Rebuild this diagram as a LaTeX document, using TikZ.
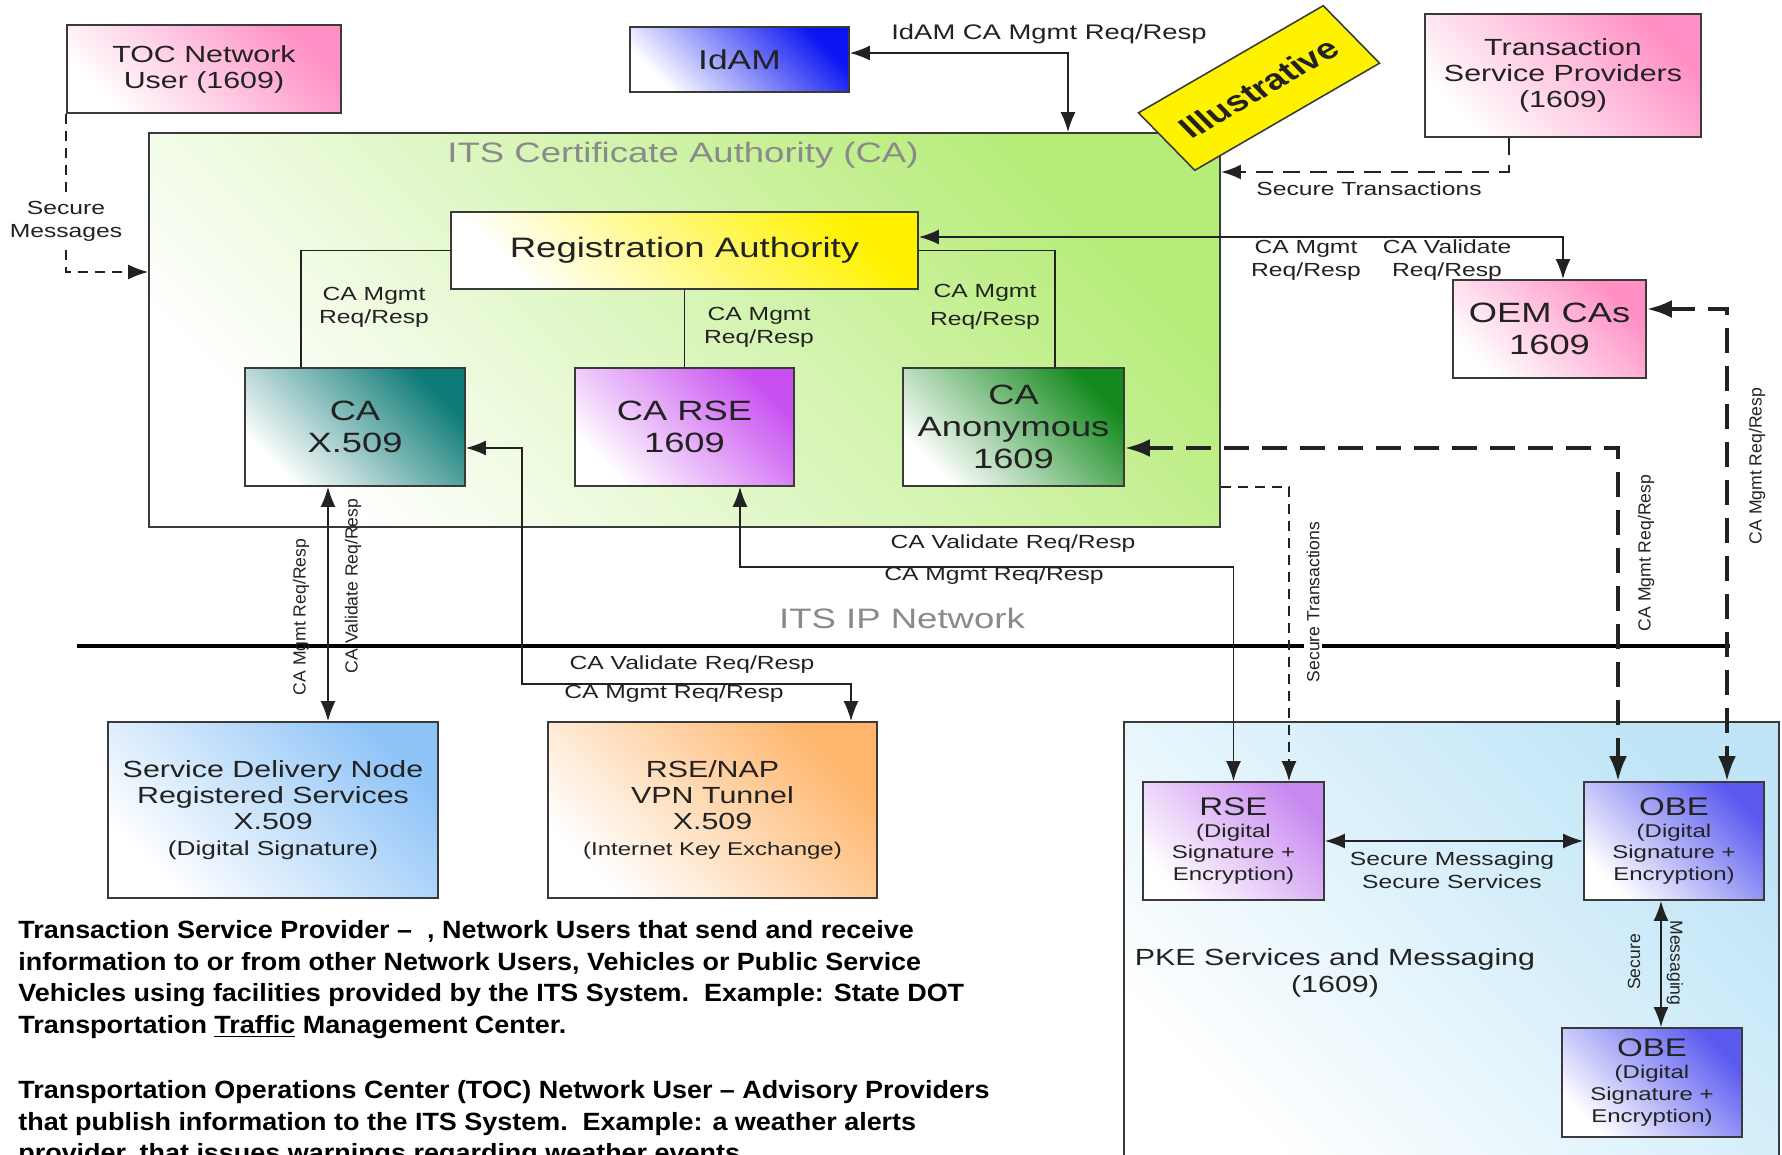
\documentclass[tikz,border=0pt]{standalone}
\usepackage{fontspec}
\setmainfont{Liberation Sans}[FakeStretch=1.3]
\newfontfamily\plainfont{Liberation Sans}
\newfontfamily\notefont{Liberation Sans}[FakeStretch=1.08]
\usetikzlibrary{arrows.meta,positioning}
\definecolor{ink}{HTML}{222222}
\definecolor{edge}{HTML}{3A3A3A}
\definecolor{pinkc}{HTML}{FF8FC4}
\definecolor{idamblue}{HTML}{0A14F0}
\definecolor{rayellow}{HTML}{FFF200}
\definecolor{cagreen}{HTML}{B6EC78}
\definecolor{teal509}{HTML}{0C7A76}
\definecolor{violetrse}{HTML}{C850F0}
\definecolor{anongreen}{HTML}{148A1E}
\definecolor{sdnblue}{HTML}{8FC4F7}
\definecolor{naporange}{HTML}{FFB56B}
\definecolor{pkeblue}{HTML}{BFE5F7}
\definecolor{rseviolet}{HTML}{C98AF0}
\definecolor{obeblue}{HTML}{5A5AF0}
\definecolor{labelgray}{HTML}{8A8A8A}
\tikzset{
  >={Latex[length=4mm,width=3mm]},
  every node/.style={text=ink},
  box/.style={draw=edge, line width=1.1pt, align=center, inner sep=0pt,
    bottom color=white, top color=#1, shading angle=-45},
  wh/.style 2 args={minimum width=#1*0.02cm, minimum height=#2*0.02cm},
  boxtxt/.style={font=\fontsize{13.3}{14.8}\selectfont},
  catxt/.style={font=\fontsize{15.9}{18}\selectfont},
  pketxt/.style={font=\fontsize{13.3}{15.5}\selectfont},
  lbl/.style={font=\fontsize{10.8}{13}\selectfont, align=center, inner sep=1pt},
  vlbl/.style={font=\plainfont\fontsize{10}{12}\selectfont, rotate=#1, inner sep=1.5pt},
  vlbl/.default=90,
  area/.style={font=\fontsize{16}{19}\selectfont, text=labelgray},
  conn/.style={line width=0.8pt, draw=ink},
  thickdash/.style={line width=2pt, draw=ink, dash pattern=on 0.5cm off 0.26cm,
    >={Latex[length=5mm,width=3.6mm]}},
  tspdash/.style={line width=1.25pt, draw=ink, dash pattern=on 0.34cm off 0.2cm},
  thindash/.style={line width=0.75pt, draw=ink, dash pattern=on 0.2cm off 0.14cm},
  note/.style={font=\notefont\bfseries\fontsize{14.2}{18}\selectfont, align=left,
    anchor=north west, inner sep=0pt, text=black}
}
\begin{document}
\begin{tikzpicture}[x=0.02cm, y=-0.02cm]
  \useasboundingbox (0,0) rectangle (1782,1155);
  \clip (0,0) rectangle (1782,1155);
  \fill[white] (0,0) rectangle (1782,1155);

  % Areas
  \node[box=cagreen, wh={1071}{394}] (ca) at (684.5,330) {};
  \node[box=pkeblue, wh={655}{443}] (pke) at (1451.5,943.5) {};
  \node[area] at (683,155) {ITS Certificate Authority (CA)};
  \node[area] at (902,618) {ITS IP Network};
  \draw[line width=2.8pt] (77,646) -- (1730,646);

  % Outside parties
  \node[box=pinkc, wh={274}{88}, boxtxt] (toc) at (204,69) {TOC Network\\User (1609)};
  \node[box=idamblue, wh={219}{65}, font=\fontsize{15.5}{18}\selectfont] (idam) at (739.5,59.5) {IdAM};
  \node[box=pinkc, wh={276}{123}, boxtxt] (tsp) at (1563,75.5) {Transaction\\Service Providers\\(1609)};
  \node[box=pinkc, wh={193}{98}, catxt] (oem) at (1549.5,329) {OEM CAs\\1609};

  % CA internals
  \node[box=rayellow, wh={467}{77}, font=\fontsize{16}{19}\selectfont] (ra) at (684.5,250.5) {Registration Authority};
  \node[box=teal509, wh={220}{118}, catxt] (cax) at (355,427) {CA\\X.509};
  \node[box=violetrse, wh={219}{118}, catxt] (carse) at (684.5,427) {CA RSE\\1609};
  \node[box=anongreen, wh={221}{118}, catxt] (caanon) at (1013.5,427) {CA\\Anonymous\\1609};

  % Network side
  \node[box=sdnblue, wh={330}{176}, boxtxt] (sdn) at (273,810)
    {Service Delivery Node\\Registered Services\\X.509\\{\fontsize{11.5}{14}\selectfont (Digital Signature)}};
  \node[box=naporange, wh={329}{176}, boxtxt] (rsenap) at (712.5,810)
    {RSE/NAP\\VPN Tunnel\\X.509\\{\fontsize{10.5}{14}\selectfont (Internet Key Exchange)}};

  % PKE area
  \node[box=rseviolet, wh={181}{118}, font=\fontsize{10.5}{12.5}\selectfont] (rse) at (1233.5,841)
    {{\fontsize{14.5}{16}\selectfont RSE}\\(Digital\\Signature +\\Encryption)};
  \node[box=obeblue, wh={180}{118}, font=\fontsize{10.5}{12.5}\selectfont] (obe1) at (1674,841)
    {{\fontsize{14.5}{16}\selectfont OBE}\\(Digital\\Signature +\\Encryption)};
  \node[box=obeblue, wh={180}{109}, font=\fontsize{10.5}{12.5}\selectfont] (obe2) at (1652,1082.5)
    {{\fontsize{14.5}{16}\selectfont OBE}\\(Digital\\Signature +\\Encryption)};
  \node[pketxt, align=center] (pkelbl) at (1335,973) {PKE Services and Messaging\\(1609)};

  % Illustrative tag
  \begin{scope}[shift={(1259,88)}, xscale=1.3]
    \node[draw=edge, line width=0.9pt, fill=yellow, rotate=37, transform shape,
      minimum width=3.56cm, minimum height=1.44cm,
      font=\plainfont\bfseries\fontsize{16.5}{19}\selectfont] (illus) at (0,0) {Illustrative};
  \end{scope}

  % Connectors
  \draw[conn, <->] (idam.east |- 0,53) -| (ca.north -| 1068,0);
  \draw[tspdash, ->] (tsp.south -| 1509,0) |- (ca.east |- 0,172);
  \draw[conn, <->] (ra.east |- 0,237) -| (oem.north -| 1563,0);
  \draw[conn] (ra.west) -| (cax.north -| 301,0);
  \draw[conn] (ra.south) -- (carse.north);
  \draw[conn] (ra.east) -| (caanon.north -| 1055,0);
  \draw[conn, <->] (cax.south -| 328,0) -- (sdn.north -| 328,0);
  \draw[conn, <->] (cax.east |- 0,448) -| (522,684) -| (rsenap.north -| 851,0);
  \draw[conn, <->] (carse.south -| 740,0) |- (rse.north |- 0,567) -- (rse.north);
  \draw[thickdash, <->] (caanon.east |- 0,448) -| (obe1.north -| 1618,0);
  \draw[thickdash, <->] (oem.east |- 0,309) -| (obe1.north -| 1727,0);
  \draw[thindash, ->] (ca.east |- 0,487) -| (rse.north -| 1289,0);
  \draw[thindash, ->] (toc.south west) |- (ca.west |- 0,272);
  \draw[conn, <->] (rse.east) -- (obe1.west);
  \draw[conn, <->] (obe1.south -| 1661,0) -- (obe2.north -| 1661,0);

  % Connector labels
  \node[lbl, font=\fontsize{12}{14}\selectfont] at (1049,34) {IdAM CA Mgmt Req/Resp};
  \node[lbl] at (1369,189) {Secure Transactions};
  \node[lbl, fill=white] at (66,221) {Secure\\Messages};
  \node[lbl] at (374,307) {CA Mgmt\\Req/Resp};
  \node[lbl] at (759,327) {CA Mgmt\\Req/Resp};
  \node[lbl, font=\fontsize{10.8}{16}\selectfont] at (985,307) {CA Mgmt\\Req/Resp};
  \node[lbl] at (1306,260) {CA Mgmt\\Req/Resp};
  \node[lbl] at (1447,260) {CA Validate\\Req/Resp};
  \node[lbl] at (1013,544) {CA Validate Req/Resp};
  \node[lbl] at (994,576) {CA Mgmt Req/Resp};
  \node[lbl] at (692,665) {CA Validate Req/Resp};
  \node[lbl] at (674,694) {CA Mgmt Req/Resp};
  \node[lbl] at (1452,870) {Secure Messaging\\Secure Services};
  \node[vlbl] at (301,617) {CA Mgmt Req/Resp};
  \node[vlbl] at (353,586) {CA Validate Req/Resp};
  \node[vlbl, fill=white] at (1313,602) {Secure Transactions};
  \node[vlbl] at (1646,553) {CA Mgmt Req/Resp};
  \node[vlbl] at (1757,466) {CA Mgmt Req/Resp};
  \node[vlbl] at (1634,962) {Secure};
  \node[vlbl=-90] at (1675,963) {Messaging};

  % Definitions
  \node[note] (tspnote) at (18,920) {Transaction Service Provider –\ \ , Network Users that send and receive\\
    information to or from other Network Users, Vehicles or Public Service\\
    Vehicles using facilities provided by the ITS System.\ \ Example: State DOT\\
    Transportation \underline{Traffic} Management Center.};
  \node[note] (tocnote) at (18,1080) {Transportation Operations Center (TOC) Network User – Advisory Providers\\
    that publish information to the ITS System.\ \ Example: a weather alerts\\
    provider, that issues warnings regarding weather events.};
\end{tikzpicture}
\end{document}
